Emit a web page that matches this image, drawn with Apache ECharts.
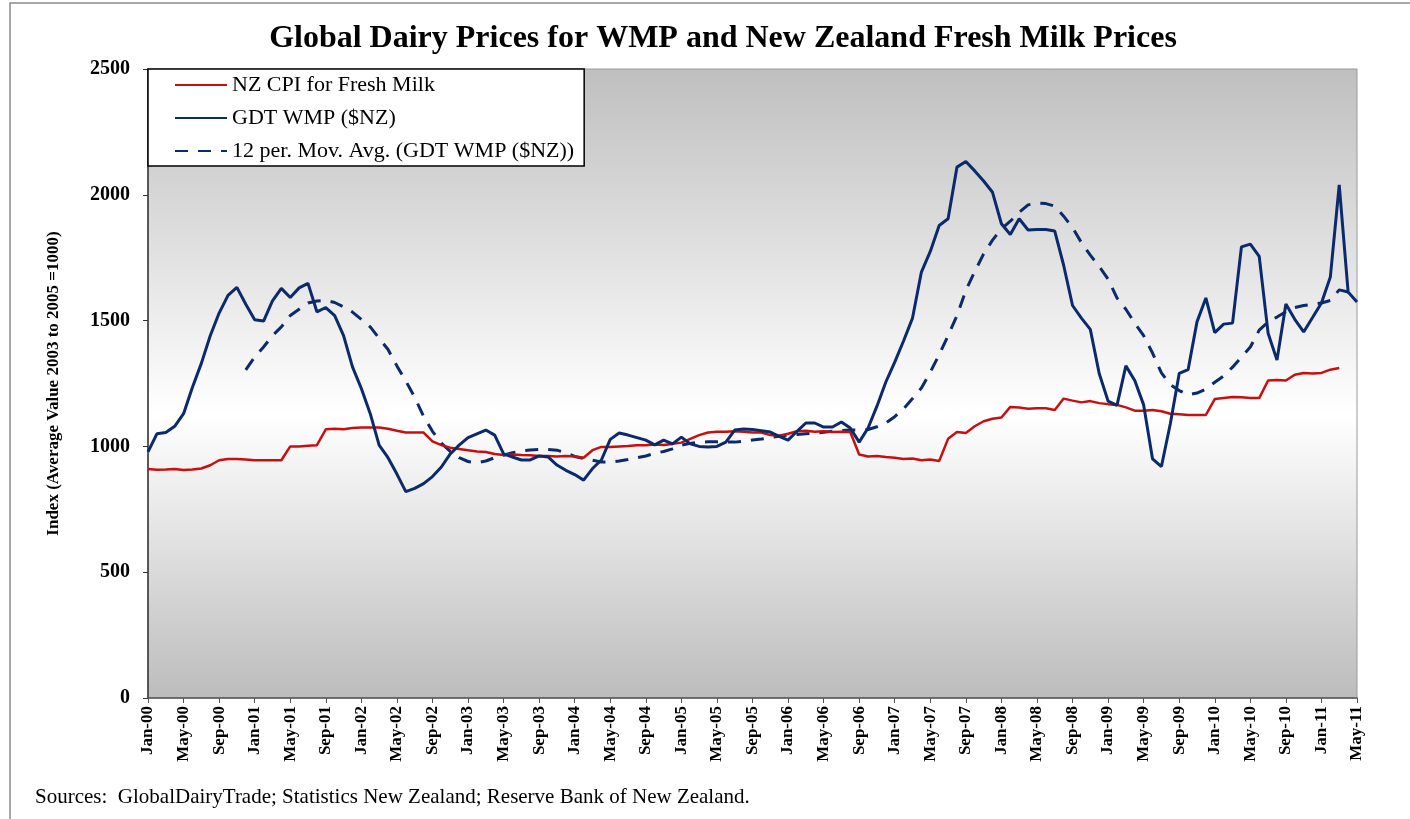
<!DOCTYPE html>
<html>
<head>
<meta charset="utf-8">
<title>Global Dairy Prices for WMP and New Zealand Fresh Milk Prices</title>
<script src="https://cdn.jsdelivr.net/npm/echarts@6/dist/echarts.min.js"></script>
<style>
  html, body { margin: 0; padding: 0; background: #fff; }
  #main { width: 1410px; height: 819px; }
</style>
</head>
<body>
<div id="main"></div>
<script>
// month labels Jan-00 .. May-11
const monthNames = ['Jan', 'Feb', 'Mar', 'Apr', 'May', 'Jun', 'Jul', 'Aug', 'Sep', 'Oct', 'Nov', 'Dec'];
const years = ['00', '01', '02', '03', '04', '05', '06', '07', '08', '09', '10', '11'];
const lastMonth = 'May-11';

const months = [];
years.forEach(y => {
  monthNames.forEach(m => {
    if (months.length && months[months.length - 1] === lastMonth) return;
    months.push(m + '-' + y);
  });
});

// NZ CPI for fresh milk (ends Mar-11)
const cpiMilk = [
  910, 907, 908, 910, 906, 908, 912, 925, 945, 950, 950, 948,
  945, 945, 945, 945, 1000, 1000, 1003, 1005, 1068, 1070, 1068, 1073,
  1075, 1075, 1075, 1070, 1062, 1055, 1055, 1055, 1020, 1005, 995, 990,
  985, 980, 978, 970, 966, 968, 966, 965, 962, 962, 960, 962,
  960, 955, 985, 998, 998, 1000, 1002, 1005, 1005, 1008, 1006, 1010,
  1015, 1030, 1045, 1055, 1058, 1058, 1060, 1058, 1055, 1055, 1045, 1042,
  1050, 1060, 1062, 1058, 1060, 1057, 1058, 1057, 968, 960, 962, 958,
  955, 950, 952, 945, 948, 942, 1030, 1057, 1053, 1080, 1100, 1110,
  1115, 1157, 1155, 1150, 1152, 1152, 1145, 1190, 1182, 1175, 1180, 1172,
  1168, 1165, 1155, 1142, 1142, 1145, 1140, 1130, 1128, 1125, 1125, 1125,
  1188, 1192, 1196, 1195, 1192, 1192, 1262, 1264, 1262, 1285, 1292, 1290,
  1292, 1305, 1312, null, null
];

// GDT whole milk powder, NZ$
const gdtWmp = [
  978, 1050, 1055, 1080, 1130, 1235, 1330, 1440, 1530, 1600, 1632, 1565,
  1503, 1498, 1578, 1628, 1592, 1630, 1648, 1535, 1552, 1520, 1440, 1316,
  1230, 1130, 1005, 955, 890, 820, 833, 852, 880, 918, 970, 1005,
  1035, 1050, 1065, 1045, 970, 958, 946, 946, 962, 958, 926, 905,
  888, 866, 912, 946, 1028, 1053, 1045, 1035, 1025, 1006, 1025, 1010,
  1037, 1010, 1000, 998, 1000, 1017, 1065, 1069, 1067, 1062, 1057, 1040,
  1025, 1060, 1093, 1093, 1077, 1077, 1097, 1073, 1017, 1073, 1160, 1256,
  1335, 1420, 1510, 1693, 1775, 1878, 1905, 2110, 2132, 2095, 2055, 2010,
  1885, 1842, 1905, 1860, 1862, 1862, 1856, 1720, 1560, 1510, 1465, 1290,
  1180, 1163, 1320, 1262, 1165, 950, 920, 1090, 1290, 1305, 1495, 1590,
  1452, 1486, 1490, 1793, 1804, 1755, 1450, 1343, 1566, 1505, 1455, 1512,
  1570, 1673, 2039, 1614, 1574
];

// 12 period moving average as plotted
const gdtAvg = [
  null, null, null, null, null, null, null, null, null, null, null, 1304,
  1355, 1395, 1440, 1475, 1520, 1545, 1570, 1578, 1580, 1572, 1555, 1534,
  1505, 1475, 1430, 1385, 1320, 1260, 1195, 1120, 1060, 1013, 980, 955,
  940, 935, 942, 955, 965, 975, 982, 986, 988, 988, 985, 975,
  960, 952, 945, 938, 938, 942, 948, 955, 962, 972, 980, 990,
  1005, 1012, 1017, 1018, 1018, 1017, 1017, 1020, 1025, 1029, 1035, 1040,
  1045, 1047, 1050, 1053, 1056, 1060, 1063, 1065, 1065, 1067, 1078, 1093,
  1118, 1150, 1190, 1232, 1295, 1365, 1440, 1520, 1620, 1695, 1765, 1820,
  1865, 1895, 1930, 1960, 1967, 1965, 1955, 1915, 1870, 1810, 1760, 1715,
  1665, 1590, 1545, 1490, 1440, 1371, 1292, 1245, 1222, 1205, 1212, 1228,
  1255, 1280, 1315, 1355, 1395, 1462, 1495, 1514, 1535, 1552, 1560, 1565,
  1570, 1580, 1622, 1614, 1600
];

const yTicks = { min: 0, max: 2500, step: 500 };

const serif = '"Liberation Serif", "Times New Roman", serif';
const red = '#c80f0f';
const navy = '#0b2a6c';

const chart = echarts.init(document.getElementById('main'));

chart.setOption({
  animation: false,
  backgroundColor: '#fff',
  title: {
    text: 'Global Dairy Prices for WMP and New Zealand Fresh Milk Prices',
    left: 718,
    textAlign: 'center',
    top: 18,
    textStyle: { fontFamily: serif, fontWeight: 'bold', fontSize: 32, color: '#000' }
  },
  legend: {
    orient: 'vertical',
    left: 148,
    top: 69,
    padding: [5, 10, 4, 26],
    itemWidth: 52,
    itemHeight: 14,
    itemGap: 11,
    backgroundColor: '#fff',
    borderColor: '#000',
    borderWidth: 1.5,
    borderRadius: 0,
    itemStyle: { opacity: 0 },
    textStyle: { fontFamily: serif, fontSize: 22, color: '#000' },
    data: ['NZ CPI for Fresh Milk', 'GDT WMP ($NZ)', '12 per. Mov. Avg. (GDT WMP ($NZ))']
  },
  grid: {
    left: 148,
    right: 53,
    top: 69,
    bottom: 121,
    show: true,
    borderColor: '#9a9a9a',
    borderWidth: 1,
    backgroundColor: new echarts.graphic.LinearGradient(0, 0, 0, 1, [
      { offset: 0, color: '#bfbfbf' },
      { offset: 0.55, color: '#ffffff' },
      { offset: 1, color: '#bcbcbc' }
    ])
  },
  xAxis: {
    type: 'category',
    data: months,
    boundaryGap: false,
    axisLine: { lineStyle: { color: '#555', width: 1.5 } },
    axisTick: { interval: 3, length: 5, lineStyle: { color: '#555' } },
    axisLabel: {
      interval: 3,
      rotate: 90,
      margin: 8,
      fontFamily: serif,
      fontWeight: 'bold',
      fontSize: 17,
      color: '#000'
    },
    splitLine: { show: false }
  },
  yAxis: {
    type: 'value',
    min: yTicks.min,
    max: yTicks.max,
    interval: yTicks.step,
    name: 'Index (Average Value 2003 to 2005 =1000)',
    nameLocation: 'middle',
    nameRotate: 90,
    nameGap: 86,
    nameTextStyle: { fontFamily: serif, fontWeight: 'bold', fontSize: 17, color: '#000' },
    axisLine: { show: true, lineStyle: { color: '#333', width: 1.5 } },
    axisTick: { show: true, length: 5, lineStyle: { color: '#333' } },
    axisLabel: {
      margin: 18,
      fontFamily: serif,
      fontWeight: 'bold',
      fontSize: 20,
      color: '#000',
      formatter: v => String(v)
    },
    splitLine: { show: false }
  },
  graphic: [
    {
      type: 'rect',
      silent: true,
      z: -1,
      shape: { x: 10, y: 3, width: 1440, height: 860 },
      style: { fill: 'none', stroke: '#8a8a8a', lineWidth: 1.5 }
    },
    {
      type: 'text',
      left: 35,
      top: 787,
      style: {
        text: 'Sources:  GlobalDairyTrade; Statistics New Zealand; Reserve Bank of New Zealand.',
        font: '21px ' + serif,
        fill: '#000'
      }
    }
  ],
  series: [
    {
      name: 'NZ CPI for Fresh Milk',
      type: 'line',
      data: cpiMilk,
      symbol: 'none',
      connectNulls: false,
      lineStyle: { color: red, width: 2.5 },
      itemStyle: { color: red },
      z: 3
    },
    {
      name: 'GDT WMP ($NZ)',
      type: 'line',
      data: gdtWmp,
      symbol: 'none',
      lineStyle: { color: navy, width: 3 },
      itemStyle: { color: navy },
      z: 4
    },
    {
      name: '12 per. Mov. Avg. (GDT WMP ($NZ))',
      type: 'line',
      data: gdtAvg,
      symbol: 'none',
      lineStyle: { color: navy, width: 3, type: [13, 10] },
      itemStyle: { color: navy },
      z: 2
    }
  ]
});
</script>
</body>
</html>
